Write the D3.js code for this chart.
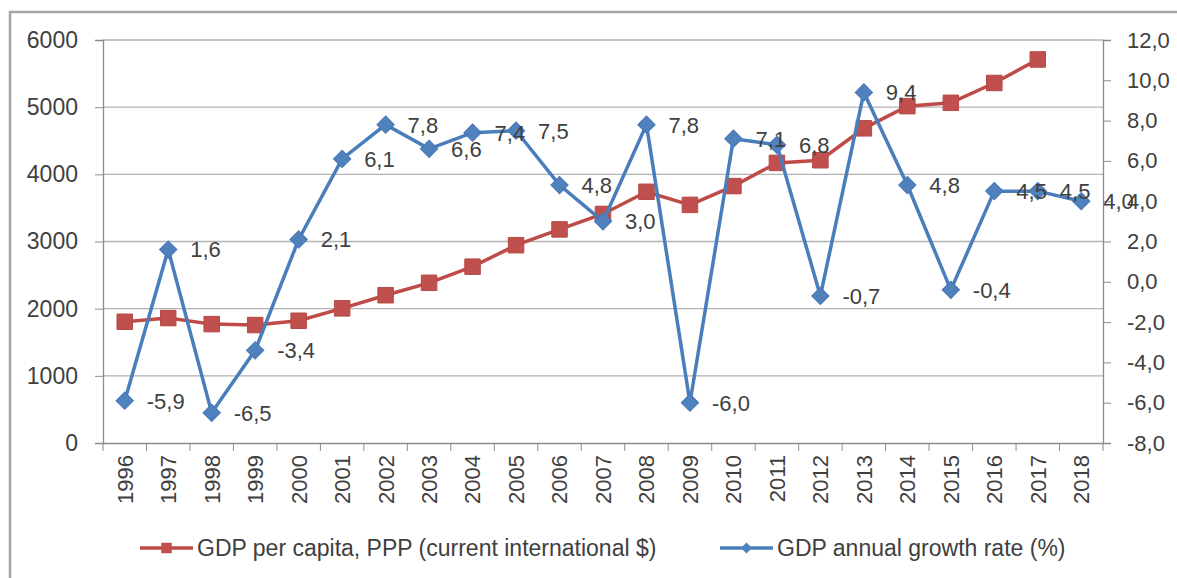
<!DOCTYPE html>
<html>
<head>
<meta charset="utf-8">
<script src="https://cdn.jsdelivr.net/npm/d3@7"></script>
<style>
  body { margin: 0; background: #fff; }
  svg { display: block; font-family: "Liberation Sans", Arial, sans-serif; }
</style>
</head>
<body>
<div id="wrapper"></div>
<script>
// years on the x axis
const years = ["1996","1997","1998","1999","2000","2001","2002","2003","2004","2005","2006","2007",
  "2008","2009","2010","2011","2012","2013","2014","2015","2016","2017","2018"]

// GDP per capita, PPP (left axis) - no value for 2018
const gdpPerCapita = [1805, 1860, 1770, 1756, 1820, 2005, 2200, 2385, 2625, 2945, 3180, 3410,
  3740, 3545, 3825, 4170, 4210, 4685, 5015, 5065, 5360, 5710, null]

// GDP annual growth rate in % (right axis)
const growthRate = [-5.9, 1.6, -6.5, -3.4, 2.1, 6.1, 7.8, 6.6, 7.4, 7.5, 4.8, 3.0,
  7.8, -6.0, 7.1, 6.8, -0.7, 9.4, 4.8, -0.4, 4.5, 4.5, 4.0]

const leftTicks = [0, 1000, 2000, 3000, 4000, 5000, 6000]
const rightTicks = [-8, -6, -4, -2, 0, 2, 4, 6, 8, 10, 12]

const seriesNames = ["GDP per capita, PPP (current international $)", "GDP annual growth rate (%)"]

const dimensions = {
  width: 1177,
  height: 578,
  margin: { top: 40, right: 74, bottom: 135, left: 103 }
}
dimensions.boundedWidth = dimensions.width - dimensions.margin.left - dimensions.margin.right
dimensions.boundedHeight = dimensions.height - dimensions.margin.top - dimensions.margin.bottom

const red = "#c0504d"
const blue = "#4f81bd"
const axisGrey = "#8c8c8c"
const textGrey = "#404040"
const comma = d => d.toFixed(1).replace(".", ",")

const wrapper = d3.select("#wrapper").append("svg")
  .attr("width", dimensions.width).attr("height", dimensions.height)

// chart frame (only top and left edges show in the picture)
wrapper.append("path")
  .attr("d", "M10,578 V12 H1177")
  .attr("fill", "none").attr("stroke", "#a6a6a6").attr("stroke-width", 2.5)

const bounds = wrapper.append("g")
  .attr("transform", `translate(${dimensions.margin.left},${dimensions.margin.top})`)

// scales
const xScale = d3.scaleBand().domain(years).range([0, dimensions.boundedWidth]).padding(0)
const yLeft = d3.scaleLinear().domain([0, 6000]).range([dimensions.boundedHeight, 0])
const yRight = d3.scaleLinear().domain([-8, 12]).range([dimensions.boundedHeight, 0])
const cx = d => xScale(d) + xScale.bandwidth() / 2

// gridlines
bounds.append("g").selectAll("line")
  .data(leftTicks.filter(d => d > 0))
  .join("line")
  .attr("x1", 0).attr("x2", dimensions.boundedWidth)
  .attr("y1", d => yLeft(d)).attr("y2", d => yLeft(d))
  .attr("stroke", "#b3b3b3").attr("stroke-width", 1.3)

// left axis
const yAxisLeft = bounds.append("g")
  .call(d3.axisLeft(yLeft).tickValues(leftTicks).tickSize(8).tickPadding(17).tickFormat(d3.format("d")))
yAxisLeft.selectAll("text").style("font-size", "23px").attr("fill", textGrey)

// right axis
const yAxisRight = bounds.append("g")
  .attr("transform", `translate(${dimensions.boundedWidth},0)`)
  .call(d3.axisRight(yRight).tickValues(rightTicks).tickSize(8).tickPadding(16).tickFormat(comma))
yAxisRight.selectAll("text").style("font-size", "22px").attr("fill", textGrey)

// bottom axis: labels at band centres, ticks at band edges
const xAxis = bounds.append("g")
  .attr("transform", `translate(0,${dimensions.boundedHeight})`)
  .call(d3.axisBottom(xScale).tickSize(0).tickPadding(0))
xAxis.selectAll("text")
  .attr("transform", "rotate(-90)")
  .attr("x", -12).attr("y", 0).attr("dy", "0.36em")
  .style("text-anchor", "end")
  .style("font-size", "22px")
  .attr("fill", textGrey)
xAxis.append("g").selectAll("line")
  .data(years.map(d => xScale(d)).concat([xScale.range()[1]]))
  .join("line")
  .attr("x1", d => d).attr("x2", d => d)
  .attr("y1", 0).attr("y2", 8)
  .attr("stroke", axisGrey)

bounds.selectAll(".domain").attr("stroke", axisGrey).attr("stroke-width", 1.3)
bounds.selectAll(".tick line").attr("stroke", axisGrey)

// GDP per capita line
const gdpPoints = years.map((y, i) => ({ year: y, value: gdpPerCapita[i] })).filter(d => d.value != null)
bounds.append("path")
  .datum(gdpPoints)
  .attr("fill", "none").attr("stroke", "#be4b48").attr("stroke-width", 3.5)
  .attr("d", d3.line().x(d => cx(d.year)).y(d => yLeft(d.value)))
bounds.append("g").selectAll("path")
  .data(gdpPoints)
  .join("path")
  .attr("d", d3.symbol(d3.symbolSquare, 240))
  .attr("transform", d => `translate(${cx(d.year)},${yLeft(d.value)})`)
  .attr("fill", red).attr("stroke", "#b84845").attr("stroke-width", 1)

// growth rate line
const growthPoints = years.map((y, i) => ({ year: y, value: growthRate[i] }))
bounds.append("path")
  .datum(growthPoints)
  .attr("fill", "none").attr("stroke", "#4a7ebb").attr("stroke-width", 3.5)
  .attr("d", d3.line().x(d => cx(d.year)).y(d => yRight(d.value)))
bounds.append("g").selectAll("path")
  .data(growthPoints)
  .join("path")
  .attr("d", d3.symbol(d3.symbolSquare, 150))
  .attr("transform", d => `translate(${cx(d.year)},${yRight(d.value)}) rotate(45)`)
  .attr("fill", blue).attr("stroke", "#4778b5").attr("stroke-width", 1)

// data labels for the growth rate
bounds.append("g").selectAll("text")
  .data(growthPoints)
  .join("text")
  .attr("x", d => cx(d.year) + 22)
  .attr("y", d => yRight(d.value))
  .attr("dy", "0.36em")
  .text(d => comma(d.value))
  .style("font-size", "22px")
  .attr("fill", textGrey)

// legend
const legend = wrapper.append("g").attr("transform", "translate(0,548)")
const legendItems = [
  { name: seriesNames[0], x: 140, color: "#be4b48", fill: red, rot: 0, size: 110 },
  { name: seriesNames[1], x: 720, color: "#4a7ebb", fill: blue, rot: 45, size: 60 }
]
const item = legend.selectAll("g").data(legendItems).join("g")
  .attr("transform", d => `translate(${d.x},0)`)
item.append("line")
  .attr("x1", 0).attr("x2", 53).attr("y1", 0).attr("y2", 0)
  .attr("stroke", d => d.color).attr("stroke-width", 3.5)
item.append("path")
  .attr("d", d => d3.symbol(d3.symbolSquare, d.size)())
  .attr("transform", d => `translate(26.5,0) rotate(${d.rot})`)
  .attr("fill", d => d.fill)
item.append("text")
  .attr("x", 57).attr("y", 0).attr("dy", "0.36em")
  .text(d => d.name)
  .style("font-size", "23px")
  .attr("fill", textGrey)
</script>
</body>
</html>
